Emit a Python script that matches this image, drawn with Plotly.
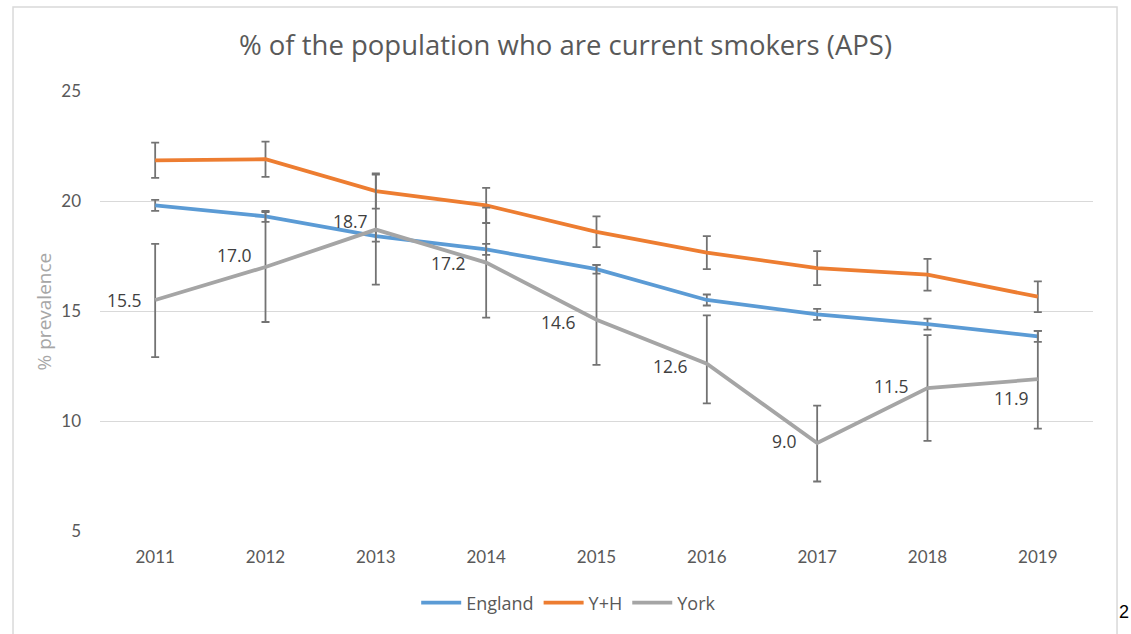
import plotly.graph_objects as go

years = [2011, 2012, 2013, 2014, 2015, 2016, 2017, 2018, 2019]
england = [19.8, 19.3, 18.4, 17.8, 16.9, 15.5, 14.85, 14.4, 13.85]
england_err = [0.25, 0.25, 0.25, 0.25, 0.2, 0.25, 0.25, 0.25, 0.25]
yh = [21.85, 21.9, 20.45, 19.8, 18.6, 17.65, 16.95, 16.65, 15.65]
yh_err = [0.8, 0.8, 0.8, 0.8, 0.7, 0.75, 0.77, 0.72, 0.7]
york = [15.5, 17.0, 18.7, 17.2, 14.6, 12.6, 9.0, 11.5, 11.9]
york_err_plus = [2.55, 2.5, 2.5, 2.5, 2.5, 2.2, 1.7, 2.4, 2.2]
york_err_minus = [2.6, 2.5, 2.5, 2.5, 2.05, 1.8, 1.75, 2.4, 2.25]
yticks = [5, 10, 15, 20, 25]

# label placement offsets (pixels) for York data labels
label_dx = [-11, -12, -6, -18, -19, -17, -18, -17, -7]
label_dy = [0, 12, 9, 0, -2, -2, 2, 2, -19]

FONT = "Lato"
FONT2 = "Open Sans"
ERR_COLOR = "#737373"

fig = go.Figure()

def add_series(name, y, color, plus, minus=None):
    err = dict(type="data", array=plus, visible=True, color=ERR_COLOR,
               thickness=1.8, width=4)
    if minus is not None:
        err["symmetric"] = False
        err["arrayminus"] = minus
    fig.add_trace(go.Scatter(
        x=years, y=y, name=name, mode="lines",
        line=dict(color=color, width=3.8),
        error_y=err,
    ))

add_series("England", england, "#5B9BD5", england_err)
add_series("Y+H", yh, "#ED7D31", yh_err)
add_series("York", york, "#A5A5A5", york_err_plus, york_err_minus)

for x, v, dx, dy in zip(years, york, label_dx, label_dy):
    fig.add_annotation(x=x, y=v, text=f"{v:.1f}", showarrow=False,
                       xanchor="right", yanchor="middle", xshift=dx, yshift=dy,
                       font=dict(family=FONT2, size=17.5, color="#404040"))

fig.add_annotation(xref="paper", yref="paper", x=-0.056, y=0.5,
                   text="% prevalence", textangle=-90, showarrow=False,
                   xanchor="center", yanchor="middle",
                   font=dict(family=FONT2, size=19, color="#A6A6A6"))

fig.add_annotation(xref="paper", yref="paper", x=1.031, y=-0.185,
                   text="2", showarrow=False, xanchor="center", yanchor="middle",
                   font=dict(family="Liberation Sans", size=18, color="#000000"))

fig.add_shape(type="rect", xref="paper", yref="paper",
              x0=-0.0876, x1=1.0242, y0=-0.30, y1=1.1909,
              line=dict(color="#D9D9D9", width=1.5), fillcolor="rgba(0,0,0,0)",
              layer="below")

fig.update_layout(
    width=1131, height=634,
    margin=dict(l=100, r=38, t=91, b=103),
    paper_bgcolor="white", plot_bgcolor="white",
    title=dict(text="% of the population who are current smokers (APS)",
               x=0.5, xanchor="center", y=1 - 45 / 634, yanchor="middle",
               font=dict(family=FONT2, size=27.5, color="#595959")),
    font=dict(family=FONT, color="#595959"),
    showlegend=True,
    legend=dict(orientation="h", x=0.472, xanchor="center", y=-0.1636,
                yanchor="middle", font=dict(family=FONT2, size=18, color="#595959"),
                itemwidth=40, tracegroupgap=0),
    xaxis=dict(range=[2010.5, 2019.5], tickmode="array", tickvals=years,
               ticktext=[str(y) for y in years], showgrid=False, zeroline=False,
               showline=False, ticks="", ticklabelstandoff=14,
               tickfont=dict(family=FONT, size=17, color="#595959")),
    yaxis=dict(range=[5, 25], tickmode="array", tickvals=yticks,
               showgrid=True, gridcolor="#D9D9D9", gridwidth=1.2,
               zeroline=False, showline=False, ticks="", ticklabelstandoff=18,
               tickfont=dict(family=FONT, size=17, color="#595959")),
)

fig.write_html("out.html")
